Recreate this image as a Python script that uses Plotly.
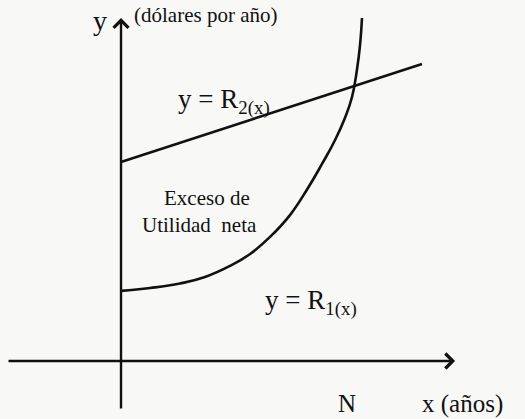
import plotly.graph_objects as go

# R1(x): net income of the old machine, rising steeply with age
r1_x = [0.0, 1.21, 2.46, 3.5, 4.54, 5.38, 6.21, 7.04, 7.79, 8.375, 8.92,
        9.33, 9.625, 9.83, 9.96, 10.04]
r1_y = [2.92, 3.04, 3.23, 3.5, 3.96, 4.46, 5.17, 6.08, 7.21, 8.21, 9.21,
        10.125, 11.0, 12.125, 13.17, 14.29]

# R2(x): straight line
r2_x = [0.0, 12.54]
r2_y = [8.29, 12.375]

# axis extents
x_axis = [-4.75, 13.92]
y_axis = [-2.04, 14.29]

INK = "#111111"
SERIF = "Liberation Serif"

fig = go.Figure()
fig.add_trace(go.Scatter(x=r2_x, y=r2_y, mode="lines",
                         line=dict(color=INK, width=2.6), hoverinfo="skip"))
fig.add_trace(go.Scatter(x=r1_x, y=r1_y, mode="lines",
                         line=dict(color=INK, width=2.6, shape="spline", smoothing=1.3),
                         hoverinfo="skip"))

annotations = [
    # axes drawn as arrows
    dict(x=x_axis[1], y=0, ax=x_axis[0], ay=0, axref="x", ayref="y",
         text="", showarrow=True, arrowhead=4, arrowsize=1.2, arrowwidth=2.4,
         arrowcolor=INK),
    dict(x=0, y=y_axis[1], ax=0, ay=y_axis[0], axref="x", ayref="y",
         text="", showarrow=True, arrowhead=4, arrowsize=1.2, arrowwidth=2.4,
         arrowcolor=INK),
]

labels = [
    ("y", -0.875, 14.2, "center", 28),
    ("(dólares por año)", 0.45, 14.4, "left", 21),
    ("y = R<sub>2(x)</sub>", 2.3, 10.8, "left", 27),
    ("y = R<sub>1(x)</sub>", 5.92, 2.45, "left", 27),
    ("Exceso de", 3.58, 6.79, "center", 21),
    ("Utilidad  neta", 3.29, 5.67, "center", 21),
    ("N", 9.42, -1.79, "center", 25),
    ("x (años)", 14.21, -1.79, "center", 25),
]
for text, x, y, anchor, size in labels:
    annotations.append(dict(x=x, y=y, text=text, showarrow=False,
                            xanchor=anchor, yanchor="middle",
                            font=dict(family=SERIF, size=size, color=INK)))

fig.update_layout(
    width=525, height=419,
    margin=dict(l=0, r=0, t=0, b=0),
    paper_bgcolor="#f8f8f6", plot_bgcolor="#f8f8f6",
    showlegend=False,
    xaxis=dict(range=[-5.042, 16.833], visible=False, fixedrange=True),
    yaxis=dict(range=[-2.417, 15.042], visible=False, fixedrange=True),
    annotations=annotations,
)

fig.write_html("out.html")
